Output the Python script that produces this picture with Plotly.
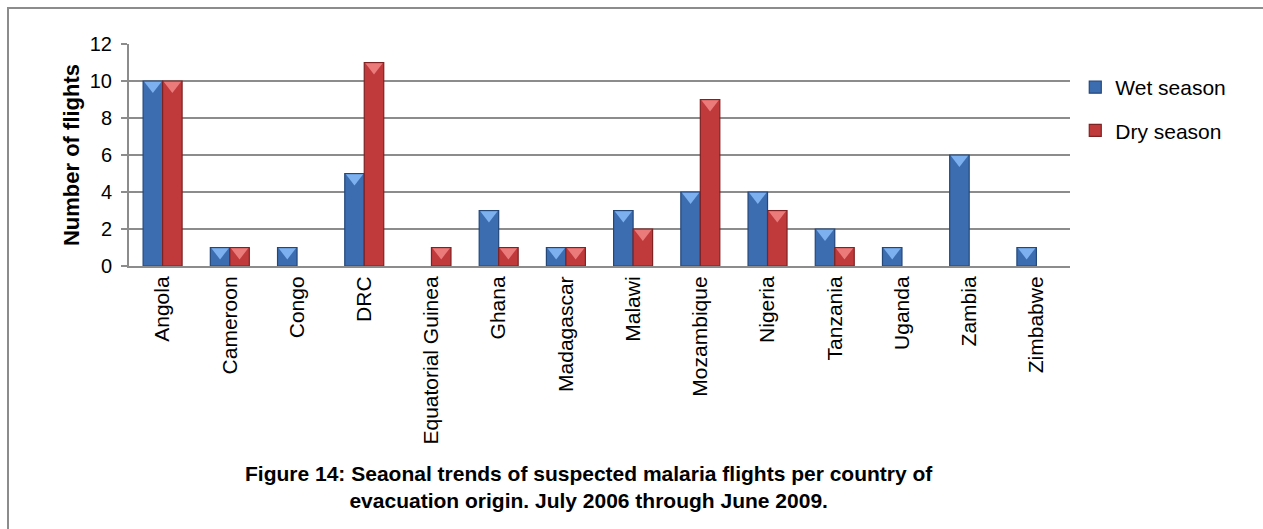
import plotly.graph_objects as go

# Suspected malaria flights per country of evacuation origin, by season
countries = ["Angola", "Cameroon", "Congo", "DRC", "Equatorial Guinea", "Ghana",
             "Madagascar", "Malawi", "Mozambique", "Nigeria", "Tanzania", "Uganda",
             "Zambia", "Zimbabwe"]
wet_season = [10, 1, 1, 5, 0, 3, 1, 3, 4, 4, 2, 1, 6, 1]
dry_season = [10, 1, 0, 11, 1, 1, 1, 2, 9, 3, 1, 0, 0, 0]
y_ticks = [0, 2, 4, 6, 8, 10, 12]

W, H = 1263, 529
L, R, T, B = 129, 193, 44, 263
pw, ph = W - L - R, H - T - B

FONT = "Liberation Sans, Arial, sans-serif"
BAR_W = 0.29
positions = list(range(len(countries)))

series = [
    ("Wet season", wet_season, -BAR_W, "#3C6DB0", "#24477A", "#7DB0EE"),
    ("Dry season", dry_season, 0.0, "#C0393B", "#7E2223", "#EB7B7B"),
]

fig = go.Figure()
for name, vals, off, body, edge, bevel in series:
    # empty categories get no bar at all
    shown = [v if v > 0 else None for v in vals]
    fig.add_trace(go.Bar(
        x=positions, y=shown, name=name, width=BAR_W, offset=off,
        marker=dict(color=body, line=dict(color=edge, width=1.2)),
        legendgroup=name,
    ))
    # light chevron at the top face of each bar
    tri_x = [p + off + BAR_W / 2 for p, v in zip(positions, vals) if v > 0]
    tri_y = [v - 0.24 for v in vals if v > 0]
    fig.add_trace(go.Scatter(
        x=tri_x, y=tri_y, mode="markers", showlegend=False, hoverinfo="skip",
        marker=dict(symbol="triangle-down", size=15, color=bevel,
                    line=dict(width=0)),
        legendgroup=name,
    ))

fig.update_layout(
    width=W, height=H,
    margin=dict(l=L, r=R, t=T, b=B, autoexpand=False),
    paper_bgcolor="white", plot_bgcolor="white",
    font=dict(family=FONT, size=20, color="black"),
    barmode="overlay",
    showlegend=True,
    legend=dict(x=1.0056, y=(H - B - 67) / ph, xanchor="left", yanchor="top",
                font=dict(size=21, family=FONT), traceorder="grouped",
                tracegroupgap=13, bgcolor="rgba(0,0,0,0)",
                itemwidth=30),
    xaxis=dict(
        range=[-0.5, len(countries) - 0.5],
        tickmode="array", tickvals=positions, ticktext=countries,
        tickangle=-90, ticks="", showgrid=False, zeroline=False,
        showline=True, linecolor="#8C8C8C", linewidth=2,
        tickfont=dict(size=21, family=FONT), fixedrange=True,
    ),
    yaxis=dict(
        range=[0, 12], tickmode="array", tickvals=y_ticks,
        ticks="outside", ticklen=6, tickcolor="#8C8C8C", tickwidth=2,
        ticklabelstandoff=5,
        showgrid=True, gridcolor="#8C8C8C", gridwidth=2,
        showline=True, linecolor="#8C8C8C", linewidth=2, zeroline=False,
        tickfont=dict(size=20, family=FONT),
        title=dict(text="<b>Number of flights</b>", font=dict(size=22, family=FONT),
                   standoff=4),
        fixedrange=True,
    ),
    shapes=[dict(
        type="rect", xref="paper", yref="paper",
        x0=(8 - L) / pw, x1=(W + 20 - L) / pw,
        y0=(H - B - 8) / ph, y1=(H - B - (H + 20)) / ph,
        line=dict(color="#8C8C8C", width=2), layer="below",
    )],
    annotations=[dict(
        text="<b>Figure 14: Seaonal trends of suspected malaria flights per country of<br>"
             "evacuation origin. July 2006 through June 2009.</b>",
        xref="paper", yref="paper",
        x=(589 - L) / pw, y=(H - B - 487) / ph,
        xanchor="center", yanchor="middle", showarrow=False, align="center",
        font=dict(size=21, family=FONT, color="black"),
    )],
)

fig.write_html("out.html")
